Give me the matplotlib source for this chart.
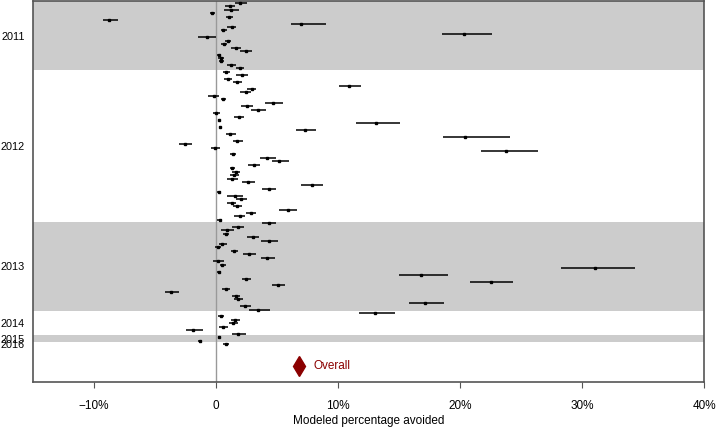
# coding:utf-8
import numpy as np
import matplotlib
matplotlib.use('Agg')
import matplotlib.pyplot as plt
from matplotlib.ticker import FuncFormatter

plt.rcParams['font.family'] = ['Liberation Sans', 'DejaVu Sans']

# 年份 和 每年的行数
years = ['2011', '2012', '2013', '2014', '2015', '2016']
year_counts = [20, 44, 26, 7, 2, 1]

# 估计值 (%)
est = [1.97, 1.12, 1.23, -0.30, 1.09, -8.77, 6.94, 1.28, 0.60, 20.35,
       -0.77, 0.98, 0.66, 1.64, 2.43, 0.25, 0.44, 0.41, 1.26, 1.97,
       0.82, 2.16, 0.96, 1.75, 10.9, 2.92, 2.43, -0.19, 0.60, 4.70,
       2.54, 3.44, 0.03, 1.89, 0.25, 13.1, 0.30, 7.30, 1.17, 20.4,
       1.75, -2.57, -0.08, 23.8, 1.39, 4.20, 5.19, 3.11, 1.34, 1.61,
       1.48, 1.31, 2.62, 7.84, 4.34, 0.27, 1.56, 2.02, 1.28, 1.75,
       5.87, 2.84, 1.94, 0.30, 4.32, 1.83, 0.93, 0.79, 3.00, 4.34,
       0.52, 0.14, 1.48, 2.70, 4.20, 0.16, 0.52, 31.1, 0.25, 16.8,
       2.43, 22.5, 5.10, 0.80, -3.66, 1.61, 1.83, 17.1, 2.38, 3.47,
       13.0, 0.41, 1.53, 1.42, 0.60, -1.86, 1.83, 0.25, -1.30, 0.85]
# 下限
lo = [1.56, 0.71, 0.66, -0.49, 0.85, -9.3, 6.12, 0.93, 0.38, 18.5,
      -1.45, 0.74, 0.41, 1.26, 1.97, 0.11, 0.19, 0.22, 0.90, 1.64,
      0.57, 1.67, 0.63, 1.39, 10.1, 2.57, 2.00, -0.63, 0.41, 4.00,
      2.05, 2.90, -0.25, 1.50, 0.15, 11.45, 0.22, 6.58, 0.79, 18.6,
      1.39, -3.0, -0.4, 21.7, 1.15, 3.60, 4.56, 2.62, 1.15, 1.28,
      1.15, 0.90, 2.16, 6.97, 3.80, 0.11, 0.93, 1.67, 0.93, 1.37,
      5.16, 2.43, 1.50, 0.12, 3.74, 1.34, 0.44, 0.55, 2.51, 3.66,
      0.22, -0.11, 1.20, 2.24, 3.66, -0.22, 0.30, 28.3, 0.10, 15.0,
      2.10, 20.8, 4.56, 0.52, -4.2, 1.34, 1.50, 15.8, 1.94, 2.70,
      11.75, 0.19, 1.20, 1.07, 0.25, -2.48, 1.28, 0.15, -1.45, 0.60]
# 上限
hi = [2.54, 1.52, 1.89, -0.08, 1.39, -8.0, 8.99, 1.66, 0.87, 22.6,
      -0.02, 1.26, 0.87, 2.08, 2.92, 0.44, 0.68, 0.63, 1.61, 2.30,
      1.12, 2.65, 1.28, 2.13, 11.9, 3.30, 2.89, 0.27, 0.79, 5.50,
      3.03, 4.10, 0.33, 2.30, 0.35, 15.06, 0.38, 8.17, 1.61, 24.1,
      2.21, -2.0, 0.35, 26.4, 1.66, 4.94, 5.98, 3.61, 1.53, 1.99,
      1.89, 1.78, 3.17, 8.77, 4.94, 0.44, 2.24, 2.54, 1.66, 2.16,
      6.61, 3.31, 2.38, 0.50, 4.94, 2.32, 1.48, 1.07, 3.55, 5.08,
      0.90, 0.44, 1.80, 3.30, 4.84, 0.66, 0.80, 34.3, 0.40, 19.0,
      2.90, 24.3, 5.66, 1.12, -3.03, 1.94, 2.24, 18.7, 2.87, 4.40,
      14.65, 0.66, 1.94, 1.83, 0.96, -1.07, 2.48, 0.35, -1.15, 1.10]

overall = 6.8

est = np.array(est)
lo = np.array(lo)
hi = np.array(hi)
n = len(est)
y = np.arange(n)

fig = plt.figure(figsize=(7.17, 4.30), dpi=100)
ax = fig.add_axes([0.046, 0.112, 0.936, 0.886])

# 灰色条带
start = 0
label_pos = []
for i, c in enumerate(year_counts):
    if i % 2 == 0:
        ax.axhspan(start - 0.5 if i > 0 else -5, start + c - 0.5, color='#cccccc', lw=0, zorder=0)
    label_pos.append(start + (c - 1) / 2.0)
    start += c

ax.axvline(0, color='#999999', lw=1, zorder=1)

ax.errorbar(est, y, xerr=[est - lo, hi - est], fmt='s', ms=1.5, color='black',
            ecolor='black', elinewidth=1.1, capsize=0, zorder=3)

ax.plot([overall], [n + 5.4], marker='d', ms=10, color='#8b0000', mec='#8b0000', zorder=3)
ax.text(overall + 1.2, n + 5.4, 'Overall', color='#8b0000', fontsize=8.5, va='center', ha='left')

ax.set_xlim(-15, 40)
ax.set_ylim(n + 10.0, -0.6)

ax.set_xticks([-10, 0, 10, 20, 30, 40])
ax.xaxis.set_major_formatter(FuncFormatter(lambda v, p: '0' if v == 0 else ('%d%%' % v).replace('-', '\u2212')))
ax.set_yticks(label_pos)
ax.set_yticklabels(years)
ax.tick_params(axis='y', length=0, pad=6, labelsize=7.8)
ax.tick_params(axis='x', length=4, labelsize=8.5, color='#555555', pad=9)
ax.set_xlabel('Modeled percentage avoided', fontsize=8.5, labelpad=2)

for s in ax.spines.values():
    s.set_color('#555555')
    s.set_linewidth(1.2)

plt.savefig('out.png', dpi=100)
